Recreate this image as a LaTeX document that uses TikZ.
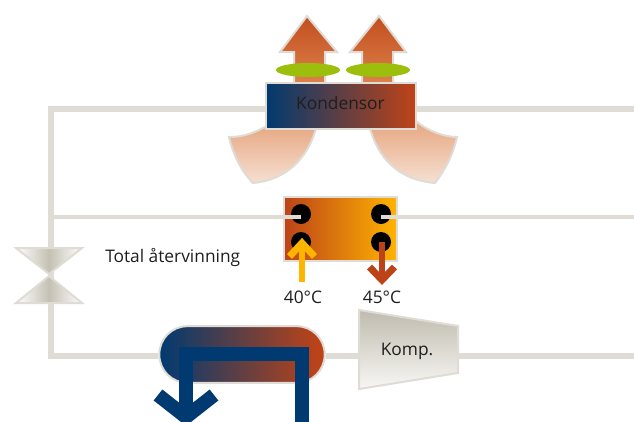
\documentclass[tikz,border=0pt]{standalone}
\usepackage{fontspec}
\setmainfont{Open Sans}
\usetikzlibrary{calc,shapes.geometric}
\definecolor{pipec}{HTML}{DFDBD5}
\definecolor{navyc}{HTML}{003A70}
\definecolor{rustc}{HTML}{BC4318}
\definecolor{yellc}{HTML}{FFB400}
\definecolor{leaf}{HTML}{9CBE0C}
\definecolor{txt}{HTML}{1E1E1E}
\definecolor{valvec}{HTML}{C4C0B3}
\definecolor{arrowtop}{HTML}{C24E1E}
\definecolor{arrowbot}{HTML}{DF8650}
\definecolor{fantop}{HTML}{E6A882}
\definecolor{fanbot}{HTML}{F6E0D2}
\definecolor{comptop}{HTML}{BFBBAE}
\definecolor{compbot}{HTML}{F8F7F4}
\pgfdeclarehorizontalshading{navyrust}{100bp}{color(0bp)=(navyc); color(25bp)=(navyc); color(74bp)=(rustc); color(100bp)=(rustc)}
\pgfdeclarehorizontalshading{navyrusttwo}{100bp}{color(0bp)=(navyc); color(25bp)=(navyc); color(73bp)=(rustc); color(100bp)=(rustc)}
\pgfdeclarehorizontalshading{rustyell}{100bp}{color(0bp)=(rustc); color(25bp)=(rustc); color(75bp)=(yellc); color(100bp)=(yellc)}
\pgfdeclarehorizontalshading{valveshade}{100bp}{color(0bp)=(white); color(25bp)=(white); color(50bp)=(valvec); color(75bp)=(white); color(100bp)=(white)}
\tikzset{
  pipe/.style={draw=pipec,line width=4.5pt},
  thinpipe/.style={draw=pipec,line width=3pt},
  edge/.style={draw=pipec,line width=1.5pt,line join=miter},
  lab/.style={inner sep=0pt,text=txt,font=\fontsize{13pt}{15pt}\selectfont},
  hotarrow/.style={edge,top color=arrowtop,bottom color=arrowbot},
  fan/.style={edge,top color=fantop,bottom color=fanbot},
  port/.style={circle,fill=black,minimum size=15pt,inner sep=0pt},
  valvepart/.style={edge,shading=valveshade},
}
\begin{document}
\begin{tikzpicture}[x=0.75pt,y=-0.75pt]
\useasboundingbox (0,0) rectangle (634,421);
\clip (0,0) rectangle (634,421);
\coordinate (tr) at (634,109);
\coordinate (mr) at (634,217);
\coordinate (br) at (634,356);
\coordinate (tl) at (51,109);
\coordinate (ml) at (51,217);
\coordinate (bl) at (51,356);
% fans
\path[fan] (265,127) .. controls (250,135) and (240,137) .. (229,137)
  .. controls (233,155) and (242,172) .. (253,183)
  .. controls (285,180) and (308,160) .. (317,125) -- cycle;
\path[fan] (417,122) .. controls (430,132) and (445,137) .. (457,137)
  .. controls (453,155) and (445,170) .. (435,183)
  .. controls (400,180) and (378,160) .. (369,125) -- cycle;
% hot air arrows
\path[hotarrow] (307,16) -- (337,52) -- (325,52) -- (325,90) -- (294,90) -- (294,52) -- (280,52) -- cycle;
\path[hotarrow] (379,16) -- (406,52) -- (393,52) -- (393,90) -- (362,90) -- (362,52) -- (350,52) -- cycle;
% components
\node[draw=pipec,line width=1.5pt,shading=navyrust,minimum width=113pt,minimum height=34pt,inner sep=0pt] (kond) at (341,106) {};
\node[lab] (kondlab) at (340.5,103) {Kondensor};
\node[ellipse,fill=leaf,minimum width=48pt,minimum height=10.5pt,inner sep=0pt] (fanl) at (308,70) {};
\node[ellipse,fill=leaf,minimum width=48pt,minimum height=10.5pt,inner sep=0pt] (fanr) at (378,70) {};
\node[draw=pipec,line width=1.5pt,shading=rustyell,minimum width=85pt,minimum height=48pt,inner sep=0pt] (hx) at (340.5,228.5) {};
\node[port] (p1) at (301,214) {};
\node[port] (p2) at (301,242) {};
\node[port] (p3) at (381,214) {};
\node[port] (p4) at (381,242) {};
\node[draw=pipec,line width=1.5pt,shading=navyrusttwo,rounded corners=21pt,minimum width=124pt,minimum height=42.5pt,inner sep=0pt] (evap) at (242,354.5) {};
\path[edge,top color=comptop,bottom color=compbot] (359,310) coordinate (c1) -- (458,326) coordinate (c2) -- (458,373) coordinate (c3) -- (359,389) coordinate (c4) -- cycle;
\node[lab] (komp) at (407,351) {Komp.};
% pipes
\draw[pipe] (kond.west |- tl) -- (tl) -- (bl) -- (evap.west |- bl);
\draw[pipe] (kond.east |- tr) -- (tr);
\draw[pipe] (evap.east |- br) -- (c1 |- br);
\draw[pipe] (c2 |- br) -- (br);
\draw[thinpipe] (ml) -- (p1.center |- ml);
\draw[thinpipe] (p3.center |- mr) -- (mr);
% valve
\path[valvepart] (16,248) -- (82,248) -- (49,274) -- cycle;
\path[valvepart] (16,303) -- (82,303) -- (49,276) -- cycle;
\node[lab,anchor=west] (tot) at (105,258) {Total återvinning};
% water arrows
\coordinate (yb) at (302,282);
\coordinate (rt) at (382,279);
\draw[draw=yellc,line width=4.3pt] (yb) -- (302,244);
\draw[draw=yellc,line width=5.2pt,miter limit=10] (289.5,256.5) -- (302,243) -- (314.5,256.5);
\draw[draw=rustc,line width=4.3pt] (p4.center -| rt) -- (rt);
\draw[draw=rustc,line width=5.2pt,miter limit=10] (369.5,267) -- (382,280) -- (394.5,267);
\node[lab] (t40) at (303,297) {40°C};
\node[lab] (t45) at (382,297) {45°C};
% brine loop
\coordinate (bin) at (302,430);
\coordinate (bout) at (186,417);
\draw[draw=navyc,line width=10.5pt,line join=miter] (bin) -- (302,353.5) -- (186,353.5) -- (bout);
\draw[draw=navyc,line width=10.5pt,miter limit=10] (158,395) -- (186,417) -- (214,395);
\end{tikzpicture}
\end{document}
